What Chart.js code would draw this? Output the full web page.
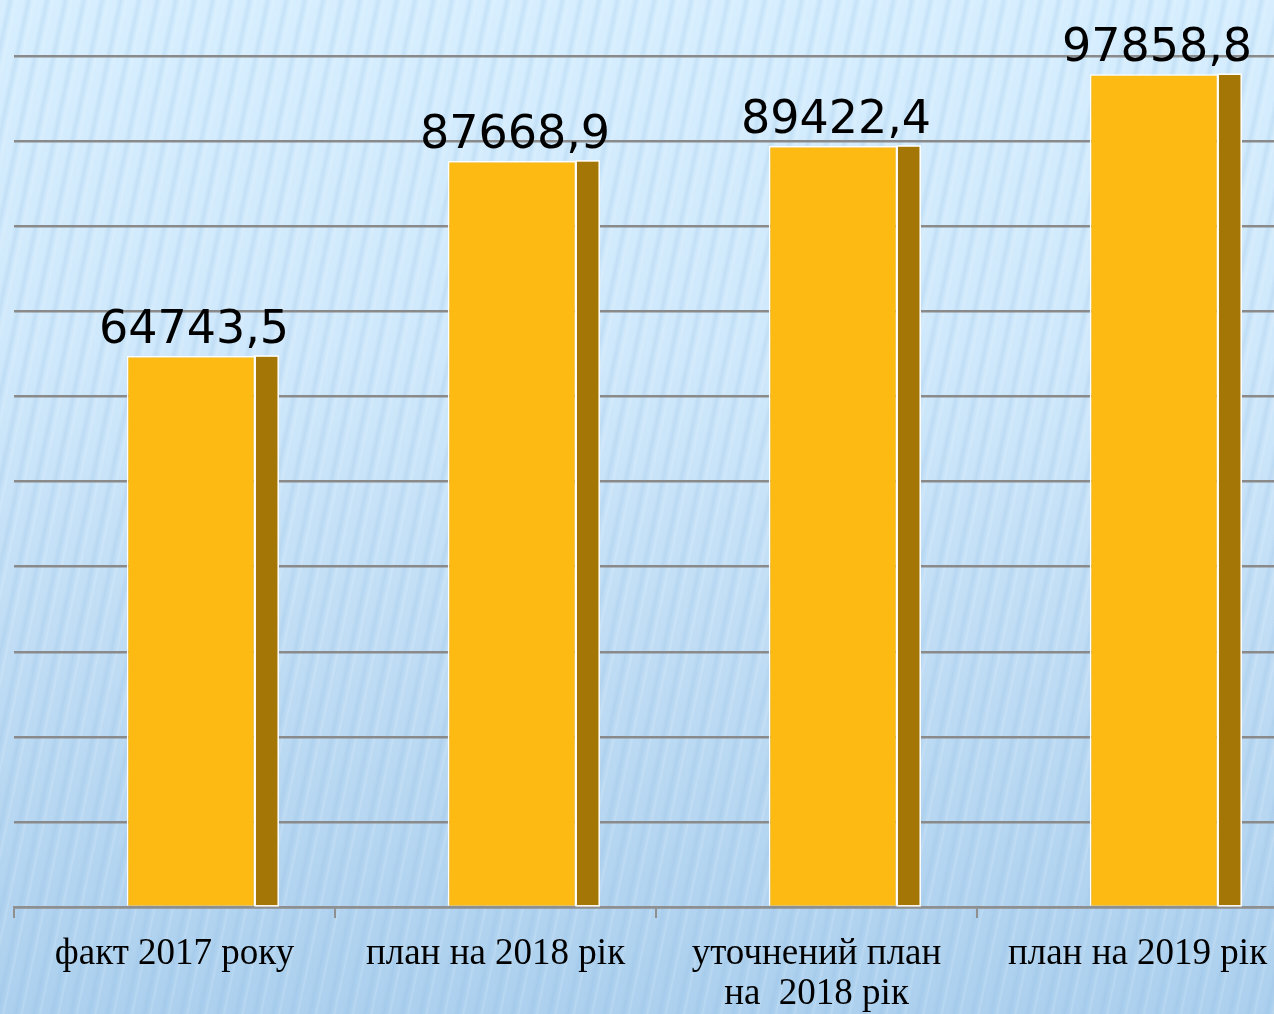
<!DOCTYPE html>
<html>
<head>
<meta charset="utf-8">
<script src="https://cdn.jsdelivr.net/npm/chart.js@4/dist/chart.umd.min.js"></script>
<style>
html,body{margin:0;padding:0;width:1274px;height:1014px;overflow:hidden;}
body{
  background:
    repeating-linear-gradient(102deg, rgba(255,255,255,0) 0px, rgba(255,255,255,0) 6px, rgba(140,185,225,0.22) 10px, rgba(255,255,255,0) 14px, rgba(255,255,255,0.15) 16px, rgba(255,255,255,0) 18px),
    linear-gradient(180deg, #d6eefe 0%, #cfe8fb 35%, #bcdaf3 70%, #acd0ee 100%);
}
#wrap{position:absolute;left:0;top:0;width:1300px;height:1026px;}
</style>
</head>
<body>
<div id="wrap"><canvas id="c"></canvas></div>
<script>
const categories = ["факт 2017 року", "план на 2018 рік", ["уточнений план", "на  2018 рік"], "план на 2019 рік"];
const values = [64743.5, 87668.9, 89422.4, 97858.8];
const valueLabels = ["64743,5", "87668,9", "89422,4", "97858,8"];
const yTicksMin = 0, yTicksMax = 100000, yStep = 10000;

const SHIFT = 16.5, SIDE = 23;
const threeD = {
  id: 'threeD',
  beforeDatasetDraw(chart, args) {
    chart.ctx.save();
    chart.ctx.translate(SHIFT, 0);
  },
  afterDatasetDraw(chart, args) {
    const ctx = chart.ctx;
    const meta = args.meta;
    meta.data.forEach((bar, i) => {
      const right = bar.x + bar.width / 2;
      const top = bar.y, base = bar.base;
      ctx.fillStyle = '#a47606';
      ctx.fillRect(right, top, SIDE, base - top);
      ctx.strokeStyle = '#ffffff';
      ctx.lineWidth = 1.5;
      ctx.strokeRect(right, top, SIDE, base - top);
      ctx.fillStyle = '#000';
      ctx.font = '46px "DejaVu Sans"';
      ctx.textAlign = 'center';
      ctx.textBaseline = 'alphabetic';
      ctx.fillText(valueLabels[i], bar.x + 3, top - 13);
    });
    ctx.restore();
  }
};

new Chart(document.getElementById('c'), {
  type: 'bar',
  data: {
    labels: categories,
    datasets: [{
      data: values,
      backgroundColor: '#fdba13',
      borderColor: '#ffffff',
      borderWidth: 1.5,
      categoryPercentage: 1,
      barPercentage: 0.4
    }]
  },
  options: {
    responsive: true,
    maintainAspectRatio: false,
    animation: false,
    layout: { padding: { left: 14, right: 2, top: 56, bottom: -4 } },
    plugins: { legend: { display: false }, tooltip: { enabled: false } },
    scales: {
      y: {
        min: yTicksMin, max: yTicksMax,
        ticks: { display: false, stepSize: yStep },
        grid: { color: '#8a8a8a', lineWidth: 2.5, drawTicks: false },
        border: { display: false }
      },
      x: {
        grid: { display: true, drawOnChartArea: false, drawTicks: true, tickLength: 11, color: '#8f8f8f', lineWidth: 2, offset: true },
        border: { display: true, color: '#8f8f8f', width: 2.5 },
        ticks: { color: '#000', font: { family: '"Liberation Serif"', size: 37, lineHeight: 1.08 }, padding: 16, maxRotation: 0, autoSkip: false }
      }
    }
  },
  plugins: [threeD]
});
</script>
</body>
</html>
